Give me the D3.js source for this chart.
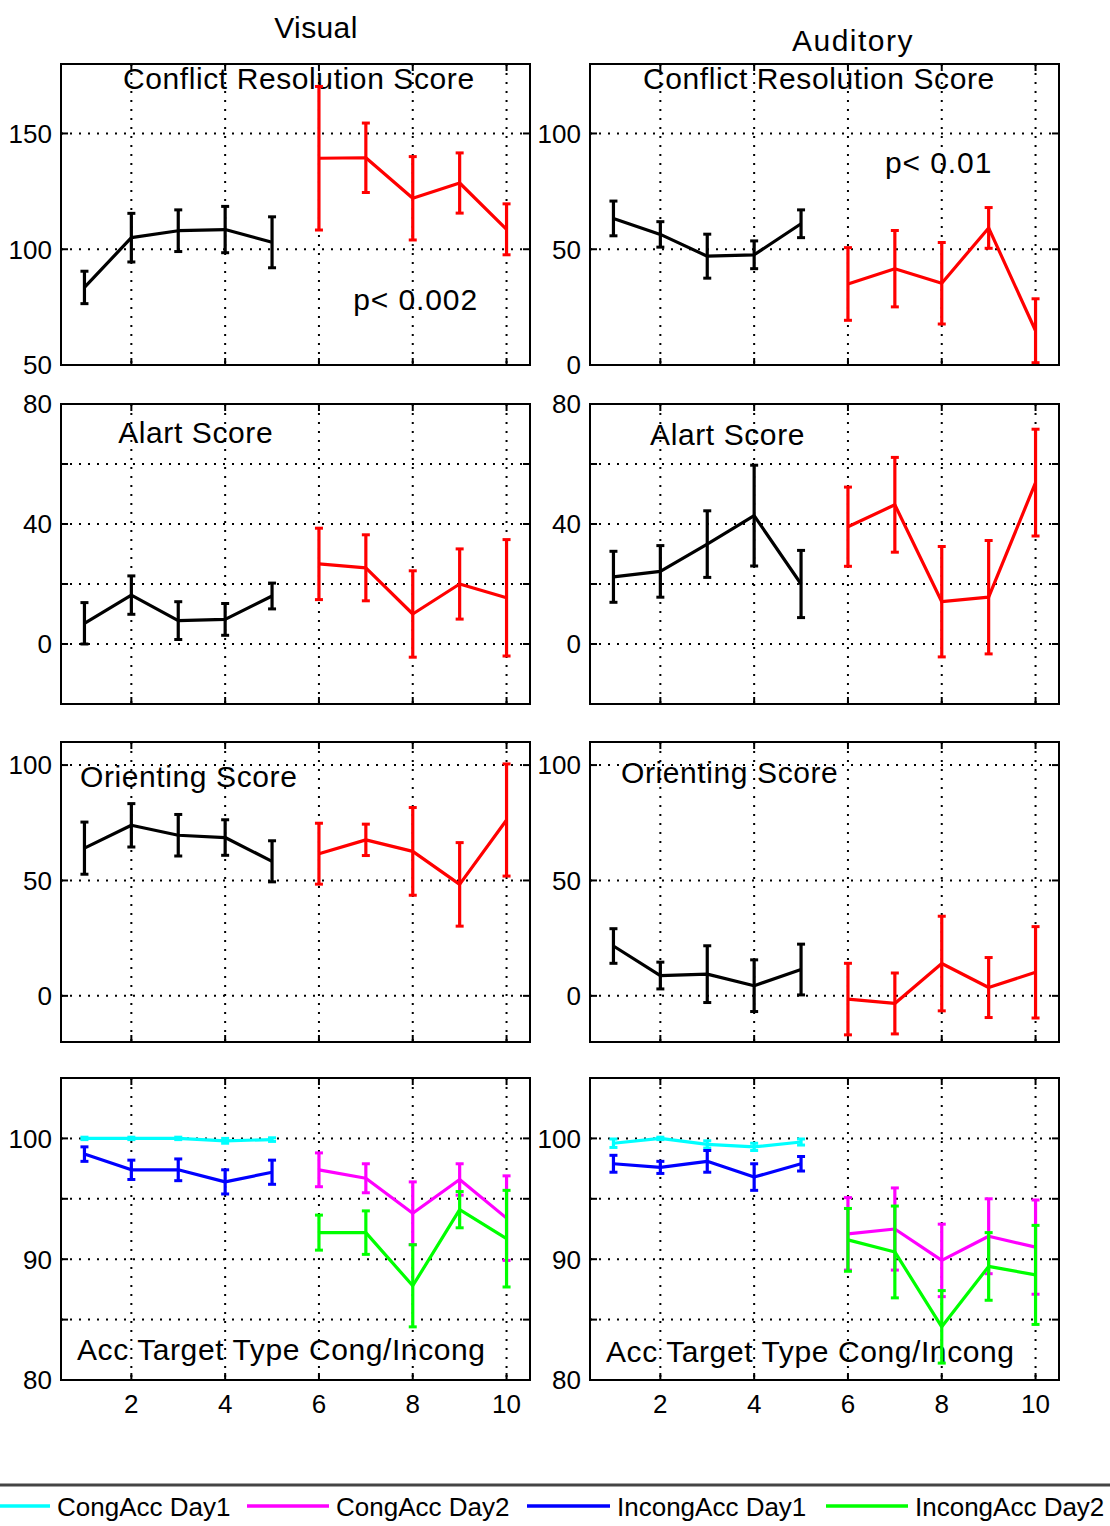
<!DOCTYPE html>
<html>
<head>
<meta charset="utf-8">
<script src="https://cdn.jsdelivr.net/npm/d3@7"></script>
<style>
  html, body { margin: 0; padding: 0; background: #fff; }
  svg { display: block; }
  text { font-family: "Liberation Sans", Arial, sans-serif; fill: #000; }
</style>
</head>
<body>
<svg id="fig" width="1110" height="1526"></svg>
<script>
// Sessions: 1-5 recorded on day 1, 6-10 on day 2
const day1Sessions = [1, 2, 3, 4, 5];
const day2Sessions = [6, 7, 8, 9, 10];
const xTickValues = [2, 4, 6, 8, 10];

// Visual modality
const visConflictDay1 = [83.5, 105, 108, 108.5, 103];
const visConflictDay1Err = [7, 10.5, 9, 10, 11];
const visConflictDay2 = [139.3, 139.5, 122, 128.6, 108.6];
const visConflictDay2Err = [31, 15, 18, 13, 11];

const visAlertDay1 = [6.9, 16.3, 7.8, 8.2, 16];
const visAlertDay1Err = [6.9, 6.4, 6.3, 5.3, 4.3];
const visAlertDay2 = [26.7, 25.4, 10, 20, 15.4];
const visAlertDay2Err = [11.9, 11, 14.4, 11.7, 19.4];

const visOrientDay1 = [64, 73.9, 69.6, 68.6, 58.3];
const visOrientDay1Err = [11.3, 9.4, 9, 7.7, 8.9];
const visOrientDay2 = [61.6, 67.6, 62.6, 48.3, 76.2];
const visOrientDay2Err = [13.2, 6.8, 19, 18.1, 24.3];

const visCongAccDay1 = [100, 100, 100, 99.8, 99.9];
const visCongAccDay1Err = [0.1, 0.1, 0.1, 0.2, 0.15];
const visIncongAccDay1 = [98.7, 97.4, 97.4, 96.4, 97.2];
const visIncongAccDay1Err = [0.6, 0.8, 0.9, 1, 1];
const visCongAccDay2 = [97.4, 96.7, 93.8, 96.6, 93.4];
const visCongAccDay2Err = [1.4, 1.2, 2.6, 1.3, 3.5];
const visIncongAccDay2 = [92.2, 92.2, 87.8, 94.1, 91.7];
const visIncongAccDay2Err = [1.45, 1.8, 3.4, 1.5, 4];

// Auditory modality
const audConflictDay1 = [63.3, 56.4, 47, 47.6, 61];
const audConflictDay1Err = [7.5, 5.5, 9.5, 6, 6];
const audConflictDay2 = [35, 41.6, 35.3, 59.2, 14.8];
const audConflictDay2Err = [15.7, 16.5, 17.6, 8.8, 13.8];

const audAlertDay1 = [22.4, 24.2, 33.3, 42.8, 20];
const audAlertDay1Err = [8.5, 8.6, 11.1, 16.8, 11.2];
const audAlertDay2 = [39.1, 46.4, 14.1, 15.6, 53.8];
const audAlertDay2Err = [13.2, 15.8, 18.4, 18.9, 17.8];

const audOrientDay1 = [21.6, 8.8, 9.4, 4.4, 11.4];
const audOrientDay1Err = [7.5, 5.8, 12.3, 11.2, 11];
const audOrientDay2 = [-1.4, -3.3, 14, 3.6, 10.2];
const audOrientDay2Err = [15.5, 13.2, 20.5, 13, 19.8];

const audCongAccDay1 = [99.6, 100, 99.5, 99.3, 99.7];
const audCongAccDay1Err = [0.35, 0.1, 0.3, 0.3, 0.25];
const audIncongAccDay1 = [97.9, 97.6, 98.1, 96.8, 97.9];
const audIncongAccDay1Err = [0.7, 0.5, 0.9, 1.1, 0.6];
const audCongAccDay2 = [92.1, 92.5, 89.9, 91.9, 91];
const audCongAccDay2Err = [3, 3.4, 3, 3.1, 3.9];
const audIncongAccDay2 = [91.6, 90.6, 84.4, 89.4, 88.7];
const audIncongAccDay2Err = [2.6, 3.8, 3, 2.8, 4.1];

const columnTitles = ["Visual", "Auditory"];
const panelTitles = ["Conflict Resolution Score", "Alart Score", "Orienting Score", "Acc Target Type Cong/Incong"];
const pValueLabels = ["p< 0.002", "p< 0.01"];
const legendLabels = ["CongAcc Day1", "CongAcc Day2", "IncongAcc Day1", "IncongAcc Day2"];
const accColors = ["#00ffff", "#ff00ff", "#0000ff", "#00ff00"];

// ---- layout ----
const colX = [61, 590];
const panelW = 469;
const rowY = [64, 404, 742, 1078];
const rowH = [301, 300, 300, 302];

const seriesPair = (x, y, e, color) => ({ x, y, e, color });

// panel definitions, built from the arrays above
const panels = [
  // row 0: conflict
  { col: 0, row: 0, domain: [50, 180], ticks: [50, 100, 150], labels: [50, 100, 150], grid: [100, 150],
    title: panelTitles[0], titlePos: [1.82, 169.4], note: pValueLabels[0], notePos: [6.73, 73.7],
    series: [seriesPair(day1Sessions, visConflictDay1, visConflictDay1Err, "#000"),
             seriesPair(day2Sessions, visConflictDay2, visConflictDay2Err, "#f00")] },
  { col: 1, row: 0, domain: [0, 130], ticks: [0, 50, 100], labels: [0, 50, 100], grid: [50, 100],
    title: panelTitles[0], titlePos: [1.63, 119.4], note: pValueLabels[1], notePos: [6.79, 82.8],
    series: [seriesPair(day1Sessions, audConflictDay1, audConflictDay1Err, "#000"),
             seriesPair(day2Sessions, audConflictDay2, audConflictDay2Err, "#f00")] },
  // row 1: alert
  { col: 0, row: 1, domain: [-20, 80], ticks: [0, 20, 40, 60, 80], labels: [0, 40, 80], grid: [0, 20, 40, 60],
    title: panelTitles[1], titlePos: [1.72, 67],
    series: [seriesPair(day1Sessions, visAlertDay1, visAlertDay1Err, "#000"),
             seriesPair(day2Sessions, visAlertDay2, visAlertDay2Err, "#f00")] },
  { col: 1, row: 1, domain: [-20, 80], ticks: [0, 20, 40, 60, 80], labels: [0, 40, 80], grid: [0, 20, 40, 60],
    title: panelTitles[1], titlePos: [1.78, 66.3],
    series: [seriesPair(day1Sessions, audAlertDay1, audAlertDay1Err, "#000"),
             seriesPair(day2Sessions, audAlertDay2, audAlertDay2Err, "#f00")] },
  // row 2: orienting
  { col: 0, row: 2, domain: [-20, 110], ticks: [0, 50, 100], labels: [0, 50, 100], grid: [0, 50, 100],
    title: panelTitles[2], titlePos: [0.905, 90.6],
    series: [seriesPair(day1Sessions, visOrientDay1, visOrientDay1Err, "#000"),
             seriesPair(day2Sessions, visOrientDay2, visOrientDay2Err, "#f00")] },
  { col: 1, row: 2, domain: [-20, 110], ticks: [0, 50, 100], labels: [0, 50, 100], grid: [0, 50, 100],
    title: panelTitles[2], titlePos: [1.16, 92.3],
    series: [seriesPair(day1Sessions, audOrientDay1, audOrientDay1Err, "#000"),
             seriesPair(day2Sessions, audOrientDay2, audOrientDay2Err, "#f00")] },
  // row 3: accuracy
  { col: 0, row: 3, domain: [80, 105], ticks: [80, 85, 90, 95, 100], labels: [80, 90, 100], grid: [85, 90, 95, 100],
    title: panelTitles[3], titlePos: [0.84, 81.65], xLabels: true,
    series: [seriesPair(day1Sessions, visCongAccDay1, visCongAccDay1Err, accColors[0]),
             seriesPair(day1Sessions, visIncongAccDay1, visIncongAccDay1Err, accColors[2]),
             seriesPair(day2Sessions, visCongAccDay2, visCongAccDay2Err, accColors[1]),
             seriesPair(day2Sessions, visIncongAccDay2, visIncongAccDay2Err, accColors[3])] },
  { col: 1, row: 3, domain: [80, 105], ticks: [80, 85, 90, 95, 100], labels: [80, 90, 100], grid: [85, 90, 95, 100],
    title: panelTitles[3], titlePos: [0.84, 81.5], xLabels: true,
    series: [seriesPair(day1Sessions, audCongAccDay1, audCongAccDay1Err, accColors[0]),
             seriesPair(day1Sessions, audIncongAccDay1, audIncongAccDay1Err, accColors[2]),
             seriesPair(day2Sessions, audCongAccDay2, audCongAccDay2Err, accColors[1]),
             seriesPair(day2Sessions, audIncongAccDay2, audIncongAccDay2Err, accColors[3])] }
];

const svg = d3.select("#fig");

// column headings
svg.append("text").attr("x", 316).attr("y", 38).attr("text-anchor", "middle")
  .style("font-size", "30px").style("letter-spacing", "0.4px").text(columnTitles[0]);
svg.append("text").attr("x", 853).attr("y", 51).attr("text-anchor", "middle")
  .style("font-size", "30px").style("letter-spacing", "1.5px").text(columnTitles[1]);

panels.forEach(p => {
  const x0 = colX[p.col], y0 = rowY[p.row], h = rowH[p.row];
  const x = d3.scaleLinear().domain([0.5, 10.5]).range([x0, x0 + panelW]);
  const y = d3.scaleLinear().domain(p.domain).range([y0 + h, y0]);
  const g = svg.append("g");

  // panel label and optional p-value note
  g.append("text").attr("x", x(p.titlePos[0])).attr("y", y(p.titlePos[1]))
    .style("font-size", "30px").style("letter-spacing", "0.6px").text(p.title);
  if (p.note) {
    g.append("text").attr("x", x(p.notePos[0])).attr("y", y(p.notePos[1]))
      .style("font-size", "30px").style("letter-spacing", "0.9px").text(p.note);
  }

  // dotted grid
  const grid = g.append("g").attr("stroke", "#000").attr("stroke-width", 2)
    .attr("stroke-dasharray", "2,7");
  xTickValues.forEach(v => grid.append("line")
    .attr("x1", x(v)).attr("x2", x(v)).attr("y1", y0).attr("y2", y0 + h));
  p.grid.forEach(v => grid.append("line")
    .attr("x1", x0).attr("x2", x0 + panelW).attr("y1", y(v)).attr("y2", y(v)));

  // inward tick marks on all four sides
  const tickLen = 7;
  const ticks = g.append("g").attr("stroke", "#000").attr("stroke-width", 2);
  xTickValues.forEach(v => {
    ticks.append("line").attr("x1", x(v)).attr("x2", x(v)).attr("y1", y0 + h).attr("y2", y0 + h - tickLen);
    ticks.append("line").attr("x1", x(v)).attr("x2", x(v)).attr("y1", y0).attr("y2", y0 + tickLen);
  });
  p.ticks.forEach(v => {
    ticks.append("line").attr("x1", x0).attr("x2", x0 + tickLen).attr("y1", y(v)).attr("y2", y(v));
    ticks.append("line").attr("x1", x0 + panelW).attr("x2", x0 + panelW - tickLen).attr("y1", y(v)).attr("y2", y(v));
  });

  // y tick labels
  p.labels.forEach(v => g.append("text")
    .attr("x", x0 - 9).attr("y", y(v)).attr("dy", "0.36em")
    .attr("text-anchor", "end").style("font-size", "26px").text(v));

  // x tick labels on the bottom row
  if (p.xLabels) {
    xTickValues.forEach(v => g.append("text")
      .attr("x", x(v)).attr("y", y0 + h + 33).attr("text-anchor", "middle")
      .style("font-size", "26px").text(v));
  }

  // series: error bars and mean lines
  const capW = 4;
  p.series.forEach(s => {
    const pts = s.x.map((xv, i) => ({ x: xv, y: s.y[i], e: s.e[i] }));
    const sg = g.append("g").attr("stroke", s.color).attr("fill", "none");
    sg.append("path")
      .attr("stroke-width", 3.2).attr("stroke-linejoin", "round")
      .attr("d", d3.line().x(d => x(d.x)).y(d => y(d.y))(pts));
    pts.forEach(d => {
      const lo = y(Math.max(d.y - d.e, p.domain[0]));
      const hi = y(d.y + d.e);
      sg.append("line").attr("stroke-width", 3.2)
        .attr("x1", x(d.x)).attr("x2", x(d.x)).attr("y1", lo).attr("y2", hi);
      if (d.y - d.e >= p.domain[0]) {
        sg.append("line").attr("stroke-width", 3)
          .attr("x1", x(d.x) - capW).attr("x2", x(d.x) + capW).attr("y1", y(d.y - d.e)).attr("y2", y(d.y - d.e));
      }
      sg.append("line").attr("stroke-width", 3)
        .attr("x1", x(d.x) - capW).attr("x2", x(d.x) + capW).attr("y1", hi).attr("y2", hi);
    });
  });

  // axes box
  g.append("rect").attr("x", x0).attr("y", y0).attr("width", panelW).attr("height", h)
    .attr("fill", "none").attr("stroke", "#000").attr("stroke-width", 2);
});

// legend strip
svg.append("line").attr("x1", 0).attr("x2", 1110).attr("y1", 1485).attr("y2", 1485)
  .attr("stroke", "#444").attr("stroke-width", 3);
const legendStart = [0, 247, 527, 826];
const legendLineLen = [50, 82, 83, 82];
legendLabels.forEach((lab, i) => {
  const lx = legendStart[i];
  svg.append("line").attr("x1", lx).attr("x2", lx + legendLineLen[i]).attr("y1", 1506).attr("y2", 1506)
    .attr("stroke", accColors[i]).attr("stroke-width", 3.5);
  svg.append("text").attr("x", lx + legendLineLen[i] + 7).attr("y", 1516)
    .style("font-size", "26px").text(lab);
});
</script>
</body>
</html>
